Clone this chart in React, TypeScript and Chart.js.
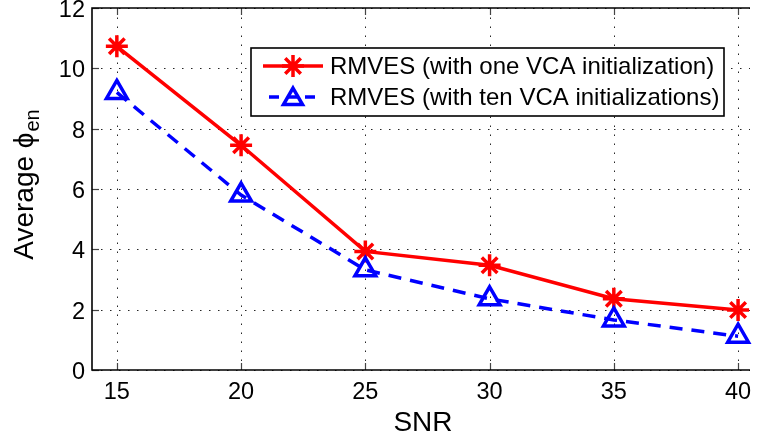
import React, { useEffect, useRef } from 'react';
import { Chart, registerables } from 'chart.js';

Chart.register(...registerables);

const snrValues = [15, 20, 25, 30, 35, 40];
const oneInitValues = [10.73, 7.45, 3.93, 3.47, 2.36, 1.99];
const tenInitValues = [9.2, 5.8, 3.32, 2.36, 1.66, 1.12];
const xTickValues = [15, 20, 25, 30, 35, 40];
const yTickValues = [0, 2, 4, 6, 8, 10, 12];
const legendLabels = ['RMVES (with one VCA initialization)', 'RMVES (with ten VCA initializations)'];
const xTitle = 'SNR';
const yTitleMain = 'Average \u03d5';
const yTitleSub = 'en';

const FONT = '"Liberation Sans", Arial, Helvetica, sans-serif';
const RED = '#ff0000';
const BLUE = '#0000ff';

function drawAsterisk(ctx: CanvasRenderingContext2D, x: number, y: number, r: number) {
  ctx.beginPath();
  for (let k = 0; k < 4; k++) {
    const a = (k * Math.PI) / 4;
    ctx.moveTo(x + Math.cos(a) * r, y + Math.sin(a) * r);
    ctx.lineTo(x - Math.cos(a) * r, y - Math.sin(a) * r);
  }
  ctx.stroke();
}

function drawTriangle(ctx: CanvasRenderingContext2D, x: number, y: number, r: number) {
  ctx.beginPath();
  let rad = 0;
  ctx.moveTo(x + Math.sin(rad) * r, y - Math.cos(rad) * r);
  rad += (2 * Math.PI) / 3;
  ctx.lineTo(x + Math.sin(rad) * r, y - Math.cos(rad) * r);
  rad += (2 * Math.PI) / 3;
  ctx.lineTo(x + Math.sin(rad) * r, y - Math.cos(rad) * r);
  ctx.closePath();
  ctx.stroke();
}

const decorPlugin = {
  id: 'decor',
  beforeDatasetsDraw(chart: any) {
    const { ctx, chartArea, scales } = chart;
    const { left, right, top, bottom } = chartArea;
    const xs = scales.x;
    const ys = scales.y;
    ctx.save();
    // dotted grid
    ctx.strokeStyle = 'rgba(0,0,0,0.85)';
    ctx.lineWidth = 1;
    ctx.setLineDash([1.5, 7.5]);
    for (const v of xTickValues) {
      const px = Math.round(xs.getPixelForValue(v)) + 0.5;
      ctx.beginPath();
      ctx.moveTo(px, bottom);
      ctx.lineTo(px, top);
      ctx.stroke();
    }
    for (const v of yTickValues) {
      const py = Math.round(ys.getPixelForValue(v)) + 0.5;
      ctx.beginPath();
      ctx.moveTo(left, py);
      ctx.lineTo(right, py);
      ctx.stroke();
    }
    ctx.setLineDash([]);
    // inward tick marks
    ctx.strokeStyle = '#444';
    ctx.lineWidth = 1.2;
    const tl = 7;
    for (const v of xTickValues) {
      const px = Math.round(xs.getPixelForValue(v)) + 0.5;
      ctx.beginPath();
      ctx.moveTo(px, bottom);
      ctx.lineTo(px, bottom - tl);
      ctx.moveTo(px, top);
      ctx.lineTo(px, top + tl);
      ctx.stroke();
    }
    for (const v of yTickValues) {
      const py = Math.round(ys.getPixelForValue(v)) + 0.5;
      ctx.beginPath();
      ctx.moveTo(left, py);
      ctx.lineTo(left + tl, py);
      ctx.stroke();
    }
    // axes lines
    ctx.strokeStyle = '#000';
    ctx.lineWidth = 1.6;
    ctx.beginPath();
    ctx.moveTo(right, top);
    ctx.lineTo(left, top);
    ctx.lineTo(left, bottom);
    ctx.lineTo(right, bottom);
    ctx.stroke();
    ctx.restore();
  },
  afterDatasetsDraw(chart: any) {
    const { ctx, chartArea } = chart;
    const { left, right } = chartArea;
    ctx.save();
    // legend box
    const bx = 251, by = 48, bw = 473, bh = 68;
    ctx.fillStyle = '#fff';
    ctx.fillRect(bx, by, bw, bh);
    ctx.strokeStyle = '#000';
    ctx.lineWidth = 1.6;
    ctx.strokeRect(bx, by, bw, bh);
    const rows = [66, 97];
    // row 1
    ctx.strokeStyle = RED;
    ctx.lineWidth = 3.5;
    ctx.beginPath();
    ctx.moveTo(263, rows[0]);
    ctx.lineTo(323, rows[0]);
    ctx.stroke();
    drawAsterisk(ctx, 293, rows[0], 11);
    // row 2
    ctx.strokeStyle = BLUE;
    ctx.setLineDash([10, 8]);
    ctx.lineDashOffset = -6;
    ctx.beginPath();
    ctx.moveTo(263, rows[1]);
    ctx.lineTo(323, rows[1]);
    ctx.stroke();
    ctx.setLineDash([]);
    drawTriangle(ctx, 293, rows[1] + 2, 11);
    ctx.fillStyle = '#000';
    ctx.font = `24px ${FONT}`;
    ctx.textBaseline = 'middle';
    ctx.textAlign = 'left';
    ctx.fillText(legendLabels[0], 330, rows[0] + 1);
    ctx.fillText(legendLabels[1], 330, rows[1] + 1);
    // x title
    ctx.font = `28px ${FONT}`;
    ctx.textAlign = 'center';
    ctx.textBaseline = 'alphabetic';
    ctx.fillText(xTitle, (left + right) / 2 + 2, 431);
    // y title with subscript
    ctx.translate(33, 185);
    ctx.rotate(-Math.PI / 2);
    ctx.font = `28px ${FONT}`;
    const wMain = ctx.measureText(yTitleMain).width;
    ctx.font = `20px ${FONT}`;
    const wSub = ctx.measureText(yTitleSub).width;
    const start = -(wMain + wSub) / 2;
    ctx.textAlign = 'left';
    ctx.font = `28px ${FONT}`;
    ctx.fillText(yTitleMain, start, 0);
    ctx.font = `20px ${FONT}`;
    ctx.fillText(yTitleSub, start + wMain + 1, 6);
    ctx.restore();
  },
};

export default function App() {
  const canvasRef = useRef<HTMLCanvasElement | null>(null);

  useEffect(() => {
    const canvas = canvasRef.current;
    if (!canvas) return;
    const chart = new Chart(canvas, {
      type: 'line',
      data: {
        datasets: [
          {
            label: legendLabels[0],
            data: snrValues.map((x, i) => ({ x, y: oneInitValues[i] })),
            borderColor: RED,
            backgroundColor: 'rgba(0,0,0,0)',
            borderWidth: 3.5,
            pointStyle: 'star',
            pointRadius: 11,
            pointBorderWidth: 3.5,
            pointBorderColor: RED,
            pointBackgroundColor: 'rgba(0,0,0,0)',
            tension: 0,
            clip: false,
            order: 1,
          } as any,
          {
            label: legendLabels[1],
            data: snrValues.map((x, i) => ({ x, y: tenInitValues[i] })),
            borderColor: BLUE,
            backgroundColor: 'rgba(0,0,0,0)',
            borderWidth: 3.5,
            borderDash: [13, 9],
            pointStyle: 'triangle',
            pointRadius: 12,
            pointBorderWidth: 3.5,
            pointBorderColor: BLUE,
            pointBackgroundColor: 'rgba(0,0,0,0)',
            tension: 0,
            clip: false,
            order: 0,
          } as any,
        ],
      },
      options: {
        animation: false,
        responsive: false,
        maintainAspectRatio: false,
        devicePixelRatio: 1,
        layout: { autoPadding: false, padding: { top: 8, right: 9, left: 0, bottom: 0 } },
        plugins: {
          legend: { display: false },
          tooltip: { enabled: false },
          title: { display: false },
        },
        scales: {
          x: {
            type: 'linear',
            min: 14,
            max: 40.48,
            grid: { display: false, drawTicks: false },
            border: { display: false },
            afterBuildTicks: (s: any) => {
              s.ticks = xTickValues.map((v) => ({ value: v }));
            },
            afterFit: (s: any) => {
              s.height = 67;
              s.paddingLeft = 0;
              s.paddingRight = 0;
            },
            ticks: {
              autoSkip: false,
              maxRotation: 0,
              padding: 8,
              color: '#000',
              font: { family: FONT, size: 23.5 },
            },
          },
          y: {
            type: 'linear',
            min: 0,
            max: 12,
            grid: { display: false, drawTicks: false },
            border: { display: false },
            afterBuildTicks: (s: any) => {
              s.ticks = yTickValues.map((v) => ({ value: v }));
            },
            afterFit: (s: any) => {
              s.width = 92;
              s.paddingTop = 0;
              s.paddingBottom = 0;
            },
            ticks: {
              padding: 7,
              labelOffset: 2.5,
              color: '#000',
              font: { family: FONT, size: 23.5 },
            },
          },
        },
      },
      plugins: [decorPlugin],
    });
    return () => chart.destroy();
  }, []);

  return (
    <div style={{ position: 'absolute', left: 0, top: 0, width: 759, height: 437, background: '#fff' }}>
      <canvas ref={canvasRef} width={759} height={437} style={{ display: 'block', width: 759, height: 437 }} />
    </div>
  );
}
